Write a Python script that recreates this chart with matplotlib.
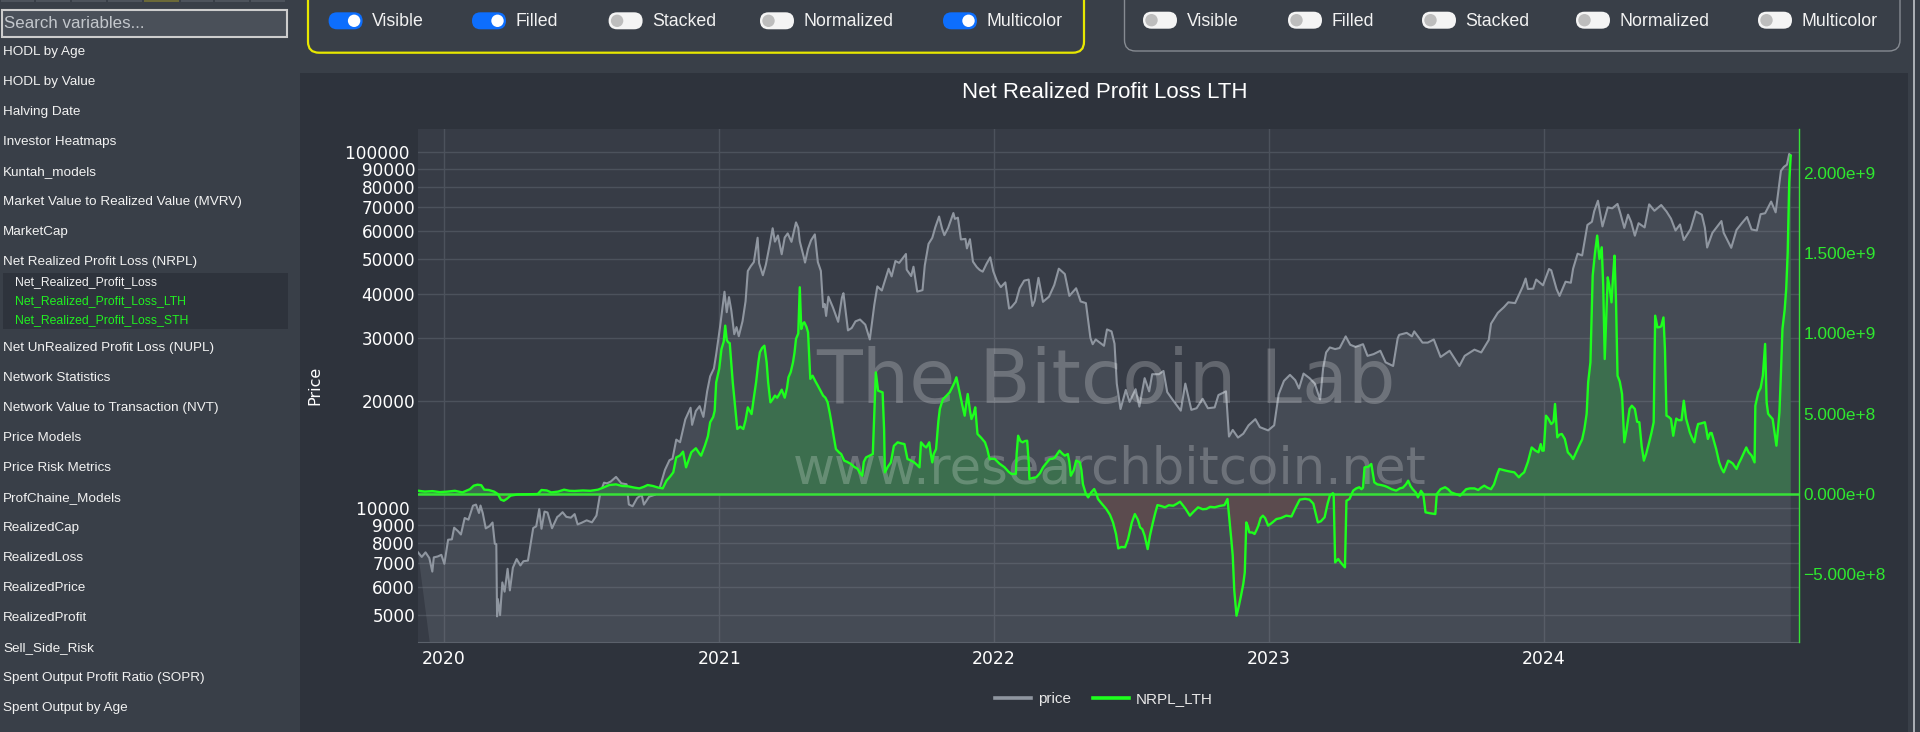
import numpy as np
import matplotlib
matplotlib.use("Agg")
import matplotlib.pyplot as plt
import matplotlib.dates as mdates
from matplotlib.patches import Rectangle, FancyBboxPatch, Circle
from matplotlib.lines import Line2D
from matplotlib.ticker import NullLocator

# ---------------- data ----------------
price_dates = [
    "2019-11-28", "2019-12-03", "2019-12-08", "2019-12-13", "2019-12-17", "2019-12-19", "2019-12-24", "2019-12-29",
    "2020-01-02", "2020-01-07", "2020-01-12", "2020-01-15", "2020-01-20", "2020-01-24", "2020-01-29", "2020-02-03",
    "2020-02-09", "2020-02-13", "2020-02-17", "2020-02-19", "2020-02-22", "2020-02-26", "2020-03-02", "2020-03-06",
    "2020-03-09", "2020-03-11", "2020-03-12", "2020-03-13", "2020-03-16", "2020-03-19", "2020-03-22", "2020-03-26",
    "2020-03-29", "2020-04-02", "2020-04-07", "2020-04-12", "2020-04-16", "2020-04-22", "2020-04-29", "2020-05-03",
    "2020-05-07", "2020-05-10", "2020-05-14", "2020-05-18", "2020-05-24", "2020-05-31", "2020-06-02", "2020-06-07",
    "2020-06-12", "2020-06-18", "2020-06-23", "2020-06-27", "2020-07-02", "2020-07-09", "2020-07-16", "2020-07-22",
    "2020-07-27", "2020-08-01", "2020-08-05", "2020-08-10", "2020-08-17", "2020-08-24", "2020-08-31", "2020-09-03",
    "2020-09-08", "2020-09-14", "2020-09-20", "2020-09-23", "2020-09-30", "2020-10-08", "2020-10-14", "2020-10-21",
    "2020-10-27", "2020-10-31", "2020-11-05", "2020-11-10", "2020-11-17", "2020-11-24", "2020-11-26", "2020-12-01",
    "2020-12-06", "2020-12-11", "2020-12-16", "2020-12-20", "2020-12-25", "2020-12-28", "2021-01-02", "2021-01-08",
    "2021-01-11", "2021-01-14", "2021-01-17", "2021-01-21", "2021-01-24", "2021-01-27", "2021-02-01", "2021-02-05",
    "2021-02-08", "2021-02-12", "2021-02-16", "2021-02-21", "2021-02-23", "2021-02-28", "2021-03-04", "2021-03-09",
    "2021-03-13", "2021-03-16", "2021-03-20", "2021-03-25", "2021-03-29", "2021-04-02", "2021-04-07", "2021-04-13",
    "2021-04-16", "2021-04-18", "2021-04-23", "2021-04-25", "2021-04-29", "2021-05-03", "2021-05-08", "2021-05-12",
    "2021-05-16", "2021-05-19", "2021-05-21", "2021-05-23", "2021-05-26", "2021-06-01", "2021-06-08", "2021-06-13",
    "2021-06-15", "2021-06-21", "2021-06-26", "2021-07-01", "2021-07-07", "2021-07-14", "2021-07-20", "2021-07-26",
    "2021-07-30", "2021-08-05", "2021-08-14", "2021-08-18", "2021-08-23", "2021-08-28", "2021-09-06", "2021-09-07",
    "2021-09-13", "2021-09-16", "2021-09-21", "2021-09-28", "2021-10-01", "2021-10-06", "2021-10-11", "2021-10-15",
    "2021-10-20", "2021-10-24", "2021-10-27", "2021-11-01", "2021-11-08", "2021-11-10", "2021-11-14", "2021-11-18",
    "2021-11-24", "2021-11-26", "2021-11-30", "2021-12-04", "2021-12-09", "2021-12-13", "2021-12-17", "2021-12-22",
    "2021-12-27", "2021-12-31", "2022-01-05", "2022-01-10", "2022-01-16", "2022-01-21", "2022-01-24", "2022-01-30",
    "2022-02-04", "2022-02-10", "2022-02-16", "2022-02-21", "2022-02-24", "2022-03-01", "2022-03-07", "2022-03-15",
    "2022-03-22", "2022-03-28", "2022-04-05", "2022-04-11", "2022-04-20", "2022-04-26", "2022-05-03", "2022-05-09",
    "2022-05-12", "2022-05-16", "2022-05-27", "2022-05-31", "2022-06-06", "2022-06-10", "2022-06-13", "2022-06-18",
    "2022-06-25", "2022-06-30", "2022-07-08", "2022-07-13", "2022-07-20", "2022-07-26", "2022-07-30", "2022-08-08",
    "2022-08-14", "2022-08-19", "2022-08-26", "2022-09-06", "2022-09-12", "2022-09-20", "2022-09-27", "2022-10-05",
    "2022-10-12", "2022-10-21", "2022-10-26", "2022-11-05", "2022-11-09", "2022-11-14", "2022-11-21", "2022-11-28",
    "2022-12-05", "2022-12-14", "2022-12-20", "2022-12-31", "2023-01-08", "2023-01-14", "2023-01-21", "2023-01-29",
    "2023-02-05", "2023-02-10", "2023-02-16", "2023-02-24", "2023-03-03", "2023-03-10", "2023-03-14", "2023-03-18",
    "2023-03-23", "2023-03-30", "2023-04-05", "2023-04-13", "2023-04-19", "2023-04-26", "2023-05-06", "2023-05-12",
    "2023-05-20", "2023-05-29", "2023-06-05", "2023-06-15", "2023-06-21", "2023-06-23", "2023-07-03", "2023-07-10",
    "2023-07-13", "2023-07-24", "2023-07-31", "2023-08-08", "2023-08-17", "2023-08-29", "2023-09-11", "2023-09-18",
    "2023-10-01", "2023-10-10", "2023-10-20", "2023-10-23", "2023-11-01", "2023-11-09", "2023-11-15", "2023-11-24",
    "2023-12-04", "2023-12-08", "2023-12-11", "2023-12-18", "2023-12-22", "2023-12-31", "2024-01-08", "2024-01-11",
    "2024-01-18", "2024-01-22", "2024-01-30", "2024-02-06", "2024-02-09", "2024-02-15", "2024-02-21", "2024-02-28",
    "2024-03-05", "2024-03-08", "2024-03-13", "2024-03-19", "2024-03-26", "2024-04-01", "2024-04-08", "2024-04-12",
    "2024-04-17", "2024-04-22", "2024-04-26", "2024-05-01", "2024-05-06", "2024-05-14", "2024-05-20", "2024-05-27",
    "2024-06-05", "2024-06-12", "2024-06-18", "2024-06-24", "2024-06-30", "2024-07-05", "2024-07-14", "2024-07-21",
    "2024-07-29", "2024-08-02", "2024-08-05", "2024-08-12", "2024-08-24", "2024-08-27", "2024-09-06", "2024-09-13",
    "2024-09-20", "2024-09-27", "2024-10-03", "2024-10-10", "2024-10-15", "2024-10-21", "2024-10-29", "2024-11-04",
    "2024-11-07", "2024-11-11", "2024-11-15", "2024-11-19", "2024-11-22", "2024-11-24",
]
price = [
    7520, 7300, 7520, 7250, 6640, 7280, 7320, 7400,
    6980, 8160, 8180, 8820, 8630, 8440, 9390, 9290,
    10170, 10240, 9700, 10180, 9690, 8780, 8910, 9120,
    7950, 7930, 4970, 5560, 5010, 6190, 5830, 6760,
    5880, 6810, 7200, 6910, 7100, 7130, 8800, 8900,
    9950, 8760, 9790, 9730, 8790, 9460, 9520, 9750,
    9460, 9410, 9630, 9010, 9100, 9250, 9130, 9540,
    11020, 11800, 11750, 11890, 12250, 11750, 11680, 10250,
    10130, 10680, 10920, 10240, 10780, 10920, 11420, 12820,
    13650, 13780, 15590, 15330, 17770, 19160, 17150, 18760,
    19360, 18060, 21310, 23480, 24700, 27080, 32180, 40580,
    35540, 39190, 36070, 30830, 32280, 30430, 33540, 38140,
    46400, 47900, 49150, 57540, 48800, 45140, 48380, 54880,
    61190, 56100, 58390, 51700, 57620, 59170, 56030, 63540,
    61340, 56220, 51100, 49000, 53580, 56610, 58800, 49150,
    46430, 36700, 37500, 34700, 39300, 36680, 33400, 39100,
    40200, 31600, 32100, 33500, 33900, 32800, 29800, 37300,
    42000, 40900, 47100, 44800, 49500, 48900, 51800, 46800,
    44900, 47700, 40600, 41000, 48100, 55300, 57500, 61600,
    66000, 61000, 58500, 61300, 67500, 65000, 65500, 56900,
    57100, 53700, 57000, 49300, 47600, 46700, 46200, 48600,
    50700, 46300, 43400, 41800, 43100, 36400, 36700, 38000,
    41500, 43600, 43900, 37000, 38300, 44400, 38000, 39300,
    42400, 47100, 45500, 39500, 41500, 38100, 37700, 30100,
    28900, 29800, 28600, 31800, 31400, 29000, 22400, 19000,
    21500, 19900, 21600, 19300, 23200, 21300, 23800, 23800,
    24300, 21200, 20200, 18800, 22400, 18900, 19100, 20300,
    19100, 19200, 20800, 21300, 15900, 16600, 15800, 16200,
    17100, 17800, 16900, 16550, 17100, 20900, 22800, 23700,
    22900, 21700, 23900, 23200, 22400, 20200, 24700, 27400,
    28300, 28000, 28200, 30400, 28800, 28400, 28900, 26800,
    27100, 27700, 25700, 25100, 30000, 30700, 31100, 30400,
    31400, 29200, 29200, 29800, 26600, 27700, 25100, 26800,
    27900, 27400, 29700, 33000, 35400, 36700, 37900, 37700,
    41900, 44200, 41300, 41400, 43900, 42300, 47000, 46600,
    41300, 39500, 43300, 43000, 47100, 51900, 51300, 62500,
    63800, 68300, 73100, 61900, 70000, 69600, 71600, 67100,
    61300, 66800, 63800, 58300, 63200, 61500, 71400, 68500,
    71100, 68200, 65100, 60300, 62700, 56700, 60800, 68200,
    66800, 61400, 54000, 59400, 64100, 59400, 53900, 60500,
    63200, 65800, 60700, 60300, 67000, 67400, 72700, 67800,
    75900, 88700, 91000, 92300, 98900, 97900,
]

# NRPL of long-term holders: days since 2020-01-01 and value in billions of USD
nrpl_day = [
    -33, -25, -15, -5, 5, 15, 25, 35, 40, 45, 50, 54, 60, 67, 72, 76, 80, 84, 89, 98,
    110, 125, 130, 137, 143, 152, 160, 167, 174, 185, 195, 205, 212, 220, 229, 237, 245, 253, 260, 266,
    271, 278, 285, 291, 296, 301, 305, 309, 314, 318, 322, 326, 329, 335, 340, 342, 347, 351, 354, 358,
    360, 362, 366, 369, 372, 374, 376, 378, 380, 384, 387, 390, 394, 398, 401, 404, 409, 412, 415, 418,
    420, 423, 426, 429, 431, 434, 437, 440, 443, 446, 449, 453, 456, 458, 461, 464, 466, 468, 471, 473,
    475, 477, 479, 482, 484, 487, 490, 494, 497, 501, 504, 507, 510, 513, 515, 518, 521, 525, 528, 532,
    536, 541, 545, 550, 553, 556, 558, 561, 566, 570, 572, 574, 577, 583, 585, 586, 590, 594, 598, 603,
    608, 612, 616, 620, 625, 629, 632, 634, 638, 641, 645, 647, 649, 651, 654, 657, 659, 663, 668, 672,
    676, 679, 681, 684, 686, 689, 692, 694, 696, 699, 701, 704, 706, 709, 714, 719, 722, 725, 729, 732,
    738, 745, 750, 754, 760, 761, 763, 766, 769, 772, 775, 777, 778, 782, 787, 792, 796, 800, 805, 809,
    812, 815, 818, 822, 825, 829, 831, 833, 837, 840, 845, 847, 849, 853, 856, 860, 864, 867, 869, 874,
    880, 885, 889, 893, 896, 900, 905, 909, 914, 918, 922, 925, 928, 931, 935, 938, 942, 945, 948, 953,
    958, 963, 969, 974, 978, 985, 991, 996, 1002, 1008, 1013, 1018, 1024, 1030, 1037, 1041, 1044, 1046, 1048, 1050,
    1053, 1056, 1059, 1062, 1064, 1066, 1068, 1070, 1074, 1077, 1080, 1082, 1085, 1088, 1091, 1095, 1100, 1106, 1112, 1119,
    1126, 1131, 1137, 1144, 1150, 1155, 1158, 1161, 1165, 1170, 1174, 1177, 1181, 1182, 1184, 1188, 1192, 1197, 1199, 1203,
    1208, 1212, 1216, 1219, 1221, 1223, 1228, 1232, 1234, 1236, 1240, 1245, 1250, 1254, 1259, 1265, 1270, 1274, 1278, 1281,
    1284, 1287, 1291, 1294, 1298, 1301, 1304, 1310, 1317, 1319, 1324, 1330, 1334, 1338, 1344, 1350, 1354, 1358, 1363, 1369,
    1374, 1378, 1382, 1386, 1391, 1395, 1399, 1402, 1407, 1411, 1416, 1422, 1425, 1428, 1431, 1435, 1440, 1445, 1450, 1454,
    1457, 1459, 1461, 1464, 1467, 1471, 1474, 1476, 1479, 1482, 1485, 1489, 1493, 1497, 1500, 1505, 1509, 1512, 1515, 1518,
    1520, 1523, 1526, 1529, 1532, 1535, 1538, 1540, 1542, 1544, 1546, 1548, 1551, 1553, 1555, 1557, 1559, 1562, 1565, 1568,
    1571, 1575, 1578, 1582, 1585, 1588, 1591, 1594, 1597, 1601, 1604, 1607, 1609, 1612, 1615, 1617, 1620, 1622, 1624, 1627,
    1630, 1633, 1635, 1637, 1640, 1644, 1647, 1650, 1653, 1655, 1658, 1661, 1664, 1666, 1670, 1675, 1677, 1679, 1682, 1684,
    1687, 1690, 1694, 1697, 1700, 1703, 1706, 1709, 1712, 1715, 1717, 1720, 1723, 1727, 1730, 1733, 1737, 1741, 1742, 1746,
    1749, 1752, 1755, 1757, 1759, 1761, 1765, 1767, 1770, 1772, 1774, 1776, 1778, 1781, 1783, 1785, 1787, 1789,
]
nrpl_bn = [
    0.02, 0.015, 0.018, 0.012, 0.015, 0.02, 0.01, 0.03, 0.052, 0.058, 0.055, 0.027, 0.025, 0.015, 0.0, -0.035, -0.042, -0.03, -0.01, -0.003,
    -0.002, 0.0, 0.025, 0.022, 0.01, 0.015, 0.027, 0.02, 0.019, 0.022, 0.02, 0.027, 0.04, 0.056, 0.06, 0.05, 0.048, 0.04, 0.035, 0.045,
    0.056, 0.05, 0.04, 0.035, 0.083, 0.11, 0.135, 0.228, 0.24, 0.264, 0.166, 0.22, 0.26, 0.285, 0.25, 0.239, 0.301, 0.36, 0.447, 0.48,
    0.519, 0.696, 0.78, 0.903, 0.95, 1.049, 0.96, 0.945, 0.94, 0.696, 0.55, 0.405, 0.42, 0.405, 0.46, 0.54, 0.498, 0.6, 0.696, 0.82,
    0.883, 0.91, 0.924, 0.82, 0.696, 0.571, 0.59, 0.613, 0.6, 0.623, 0.65, 0.6, 0.66, 0.727, 0.76, 0.82, 0.88, 0.966, 1.0, 1.288,
    1.028, 1.06, 1.07, 1.04, 1.007, 0.717, 0.737, 0.7, 0.675, 0.64, 0.613, 0.6, 0.571, 0.5, 0.447, 0.36, 0.28, 0.26, 0.249, 0.208,
    0.2, 0.187, 0.17, 0.156, 0.13, 0.114, 0.2, 0.228, 0.24, 0.249, 0.5, 0.758, 0.644, 0.633, 0.4, 0.135, 0.17, 0.197, 0.3, 0.322,
    0.315, 0.311, 0.218, 0.21, 0.197, 0.18, 0.166, 0.322, 0.3, 0.29, 0.322, 0.25, 0.197, 0.25, 0.28, 0.45, 0.53, 0.59, 0.613, 0.633,
    0.67, 0.7, 0.727, 0.66, 0.613, 0.55, 0.488, 0.56, 0.623, 0.52, 0.467, 0.5, 0.54, 0.374, 0.35, 0.322, 0.28, 0.218, 0.22, 0.218,
    0.19, 0.166, 0.14, 0.125, 0.125, 0.25, 0.363, 0.33, 0.322, 0.33, 0.332, 0.2, 0.093, 0.1, 0.104, 0.13, 0.166, 0.19, 0.218, 0.22,
    0.228, 0.25, 0.27, 0.25, 0.239, 0.249, 0.2, 0.114, 0.15, 0.208, 0.197, 0.15, 0.062, 0.0, -0.021, 0.01, 0.031, 0.0, -0.031, -0.06,
    -0.093, -0.13, -0.177, -0.25, -0.339, -0.33, -0.332, -0.28, -0.177, -0.125, -0.16, -0.208, -0.22, -0.26, -0.343, -0.26, -0.177, -0.12, -0.069, -0.075,
    -0.083, -0.07, -0.073, -0.06, -0.048, -0.09, -0.135, -0.11, -0.083, -0.095, -0.093, -0.08, -0.083, -0.075, -0.069, -0.031, -0.177, -0.28, -0.384, -0.6,
    -0.758, -0.7, -0.633, -0.56, -0.488, -0.177, -0.2, -0.239, -0.24, -0.249, -0.22, -0.197, -0.15, -0.135, -0.15, -0.197, -0.18, -0.156, -0.15, -0.135,
    -0.14, -0.09, -0.035, -0.03, -0.035, -0.06, -0.12, -0.177, -0.17, -0.145, -0.06, -0.01, 0.005, 0.0, -0.426, -0.405, -0.43, -0.457, -0.042, -0.031,
    0.021, 0.035, 0.042, 0.03, 0.04, 0.166, 0.17, 0.187, 0.13, 0.073, 0.06, 0.056, 0.05, 0.042, 0.03, 0.021, 0.035, 0.04, 0.06, 0.083,
    0.05, 0.03, 0.01, -0.021, 0.02, 0.0, -0.114, -0.12, -0.125, 0.0, 0.03, 0.042, 0.03, 0.01, 0.0, -0.01, 0.01, 0.03, 0.035, 0.035,
    0.025, 0.04, 0.052, 0.04, 0.03, 0.06, 0.12, 0.156, 0.15, 0.145, 0.14, 0.135, 0.12, 0.104, 0.12, 0.135, 0.2, 0.29, 0.27, 0.26,
    0.311, 0.27, 0.27, 0.488, 0.47, 0.436, 0.45, 0.561, 0.353, 0.37, 0.374, 0.343, 0.26, 0.24, 0.218, 0.27, 0.311, 0.34, 0.405, 0.5,
    0.696, 0.82, 1.36, 1.5, 1.61, 1.464, 1.537, 1.3, 0.841, 1.1, 1.35, 1.3, 1.194, 1.35, 1.485, 1.2, 0.737, 0.7, 0.623, 0.322,
    0.4, 0.53, 0.55, 0.53, 0.45, 0.447, 0.3, 0.208, 0.25, 0.322, 0.38, 0.447, 1.111, 1.038, 1.04, 1.045, 1.1, 0.9, 0.488, 0.48,
    0.467, 0.363, 0.42, 0.47, 0.46, 0.46, 0.581, 0.47, 0.42, 0.384, 0.35, 0.322, 0.4, 0.436, 0.44, 0.447, 0.4, 0.343, 0.38, 0.38,
    0.33, 0.28, 0.197, 0.16, 0.135, 0.17, 0.208, 0.2, 0.19, 0.17, 0.156, 0.19, 0.218, 0.26, 0.29, 0.26, 0.24, 0.197, 0.55, 0.633,
    0.66, 0.737, 0.935, 0.571, 0.5, 0.488, 0.467, 0.4, 0.301, 0.4, 0.509, 0.75, 1.028, 1.15, 1.277, 1.506, 1.942, 2.108,
]

price_ticks = [5000, 6000, 7000, 8000, 9000, 10000, 20000, 30000, 40000,
               50000, 60000, 70000, 80000, 90000, 100000]
nrpl_ticks = [-5e8, 0, 5e8, 1e9, 1.5e9, 2e9]

sidebar_items = ["HODL by Age", "HODL by Value", "Halving Date", "Investor Heatmaps",
                 "Kuntah_models", "Market Value to Realized Value (MVRV)", "MarketCap",
                 "Net Realized Profit Loss (NRPL)"]
sidebar_sub = ["Net_Realized_Profit_Loss", "Net_Realized_Profit_Loss_LTH",
               "Net_Realized_Profit_Loss_STH"]
sidebar_rest = ["Net UnRealized Profit Loss (NUPL)", "Network Statistics",
                "Network Value to Transaction (NVT)", "Price Models", "Price Risk Metrics",
                "ProfChaine_Models", "RealizedCap", "RealizedLoss", "RealizedPrice",
                "RealizedProfit", "Sell_Side_Risk", "Spent Output Profit Ratio (SOPR)",
                "Spent Output by Age"]
toggle_names = ["Visible", "Filled", "Stacked", "Normalized", "Multicolor"]
toggles_left = [True, True, False, False, True]
toggles_right = [False, False, False, False, False]

# ---------------- colours ----------------
page_c = "#393f48"
paper_c = "#2e333c"
plot_c = "#373c46"
grid_c = "#4c525c"
price_c = "#8f96a0"
green = "#1dff1d"
zero_c = "#37e237"
pos_fill = "#3c6e4e"
neg_fill = "#5b4b4e"
SANS = ["Liberation Sans", "DejaVu Sans"]
DV = ["DejaVu Sans"]

W, H = 1920, 732
fig = plt.figure(figsize=(W / 100, H / 100), dpi=100)
fig.patch.set_facecolor(page_c)

# pixel space background axes for the page chrome
bg = fig.add_axes([0, 0, 1, 1])
bg.set_xlim(0, W)
bg.set_ylim(H, 0)
bg.axis("off")
bg.set_zorder(0)

# top tab strip
tab_edges = [0, 35, 71, 107, 143, 180, 214, 250, 286]
for i in range(len(tab_edges) - 1):
    col = "#6b6938" if i == 4 else "#4d535c"
    bg.add_patch(Rectangle((tab_edges[i] + 1, 0), tab_edges[i + 1] - tab_edges[i] - 2, 2.2, fc=col, ec="none"))

# search box
bg.add_patch(Rectangle((1.5, 9.5), 285.5, 27.5, fc="#4a5059", ec="#cdcdcd", lw=1.5))
bg.text(3.5, 23.5, "Search variables...", color="#c3c7cc", fontsize=12.2, family=SANS, va="center")

# sidebar list
for i, name in enumerate(sidebar_items):
    bg.text(3.3, 52.3 + 30 * i, name, color="#f2f2f2", fontsize=9.7, family=SANS, va="center")
bg.add_patch(Rectangle((3.3, 273.3), 284.7, 55.7, fc=paper_c, ec="none"))
for i, name in enumerate(sidebar_sub):
    col = "#f2f2f2" if i == 0 else "#21f021"
    bg.text(15, 282.5 + 18.6 * i, name, color=col, fontsize=8.8, family=SANS, va="center")
for i, name in enumerate(sidebar_rest):
    bg.text(3.3, 348.3 + 30 * i, name, color="#f2f2f2", fontsize=9.7, family=SANS, va="center")

# toggle panels
bg.add_patch(FancyBboxPatch((308, -20), 776, 72.7, boxstyle="round,pad=0,rounding_size=11",
                            fc="none", ec="#e8e800", lw=1.6))
bg.add_patch(FancyBboxPatch((1124.5, -20), 775.5, 71, boxstyle="round,pad=0,rounding_size=11",
                            fc="none", ec="#868b92", lw=1.0))


def toggle(x, y, on, label):
    fc = "#0d6efd" if on else "#f4f4f4"
    bg.add_patch(FancyBboxPatch((x, y - 8.5), 34, 17, boxstyle="round,pad=0,rounding_size=8.5",
                                fc=fc, ec="none"))
    kx = x + 25.5 if on else x + 8.5
    bg.add_patch(Circle((kx, y), 6.2, fc="white" if on else "#bdbdbd", ec="none"))
    bg.text(x + 43.5, y + 0.8, label, color="#f2f2f2", fontsize=12.8, family=SANS, va="center")


for x, on, name in zip([328.6, 472, 608.6, 760, 943], toggles_left, toggle_names):
    toggle(x, 20.8, on, name)
for x, on, name in zip([1143, 1288, 1422, 1576, 1758], toggles_right, toggle_names):
    toggle(x, 20.2, on, name)

# plot "paper" and scrollbar
bg.add_patch(Rectangle((300, 73), 1608, H - 73, fc=paper_c, ec="none"))
bg.add_patch(Rectangle((1912.5, 0), 2.5, H, fc="#a9adb3", ec="none"))

bg.text(1105, 93, "Net Realized Profit Loss LTH", color="white", fontsize=16,
        family=SANS, ha="center", va="center")
bg.text(314.5, 385, "Price", color="white", fontsize=11.5, family=DV,
        rotation=90, ha="center", va="center")

# ---------------- chart ----------------
pdates = np.array(price_dates, dtype="datetime64[D]")
pvals = np.array(price, dtype=float)
ndates = np.datetime64("2020-01-01") + np.array(nrpl_day).astype("timedelta64[D]")
nvals = np.array(nrpl_bn) * 1e9

ax = fig.add_axes([418 / W, 1 - 642 / H, (1799 - 418) / W, (642 - 129) / H])
ax.set_zorder(1)
ax.set_facecolor(plot_c)
ax.set_yscale("log")
ax.set_axisbelow(True)
ax.grid(True, color=grid_c, lw=1)

# price area filled "to zero": on a log axis the closing edge slants off the first point
pnum = mdates.date2num(pdates)
ax.fill(np.concatenate([pnum, [pnum[-1], pnum[0] + 54]]),
        np.concatenate([pvals, [1000, 1000]]), color=price_c, alpha=0.17, lw=0)
ax.plot(pdates, pvals, color=price_c, lw=1.5, solid_joinstyle="round")
ax.set_ylim(4211, 116250)
ax.set_xlim(np.datetime64("2019-11-28"), np.datetime64("2024-12-05"))
ax.set_yticks(price_ticks, [f"{t} " if t in (10000, 100000) else str(t) for t in price_ticks])
ax.yaxis.set_minor_locator(NullLocator())
ax.xaxis.set_major_locator(mdates.YearLocator())
ax.xaxis.set_major_formatter(mdates.DateFormatter("%Y"))
ax.tick_params(axis="y", length=0, pad=2, labelsize=12.2, labelcolor="white")
ax.tick_params(axis="x", length=0, pad=6, labelsize=12.4, labelcolor="white")
for s in ["left", "top", "right"]:
    ax.spines[s].set_visible(False)
ax.spines["bottom"].set_color("#5b616b")


def sci(v):
    if v == 0:
        return "0.000e+0"
    e = int(np.floor(np.log10(abs(v))))
    s = f"{v / 10 ** e:.3f}e{e:+d}"
    return s.replace("-", "\u2212", 1) if v < 0 else s


ax2 = ax.twinx()
ax2.set_zorder(2)
ax2.patch.set_visible(False)
ax2.fill_between(ndates, nvals, 0, where=nvals >= 0, interpolate=True, color=pos_fill, lw=0, zorder=1)
ax2.fill_between(ndates, nvals, 0, where=nvals <= 0, interpolate=True, color=neg_fill, lw=0, zorder=1)
ax2.axhline(0, color=zero_c, lw=1.8, zorder=3)
ax2.plot(ndates, nvals, color=green, lw=1.7, zorder=4, solid_joinstyle="round")
ax2.set_ylim(-0.922e9, 2.274e9)
ax2.set_yticks(nrpl_ticks, [sci(v) for v in nrpl_ticks], family=SANS)
ax2.tick_params(axis="y", length=0, pad=3, labelsize=12.4, labelcolor="#2fe82f")
for s in ["left", "top", "bottom"]:
    ax2.spines[s].set_visible(False)
ax2.spines["right"].set_color(zero_c)
ax2.spines["right"].set_linewidth(1.0)

# watermark
ax2.text(1106, 403, "The Bitcoin Lab", transform=bg.transData, fontsize=54, family=DV,
         color="white", alpha=0.22, ha="center", va="baseline", zorder=2, clip_on=False)
ax2.text(1110, 484, "www.researchbitcoin.net", transform=bg.transData, fontsize=37, family=DV,
         color="white", alpha=0.22, ha="center", va="baseline", zorder=2, clip_on=False)

# legend
fig.legend(handles=[Line2D([], [], color=price_c, lw=2.6), Line2D([], [], color=green, lw=2.6)],
           labels=["price", "NRPL_LTH"], loc="center", bbox_to_anchor=(1104 / W, 1 - 699 / H),
           ncol=2, frameon=False, prop={"family": SANS, "size": 11}, labelcolor="#e8e8e8",
           handlelength=2.35, handletextpad=0.45, columnspacing=1.45)

fig.savefig("out.png", dpi=100, facecolor=page_c)
